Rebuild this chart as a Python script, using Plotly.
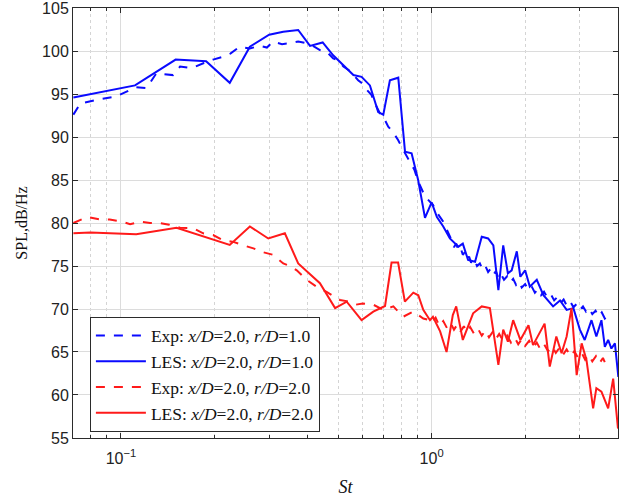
import math
import plotly.graph_objects as go

# ---- data (St, SPL dB/Hz) ----
exp1_st = [0.0703, 0.074, 0.0856, 0.0963, 0.112, 0.121, 0.130, 0.147, 0.155, 0.169, 0.185, 0.198,
           0.212, 0.225, 0.241, 0.26, 0.28, 0.295, 0.309, 0.33, 0.35, 0.372, 0.396, 0.415, 0.437,
           0.46, 0.482, 0.50, 0.52, 0.55, 0.58, 0.60, 0.618, 0.64, 0.657, 0.682, 0.70, 0.725, 0.75,
           0.78, 0.81, 0.852, 0.88, 0.906, 0.93, 0.952, 0.98, 1.01, 1.05, 1.09, 1.12,
           1.16, 1.18, 1.20, 1.22, 1.24, 1.26, 1.28, 1.30, 1.32, 1.34, 1.37, 1.40, 1.43, 1.46,
           1.49, 1.52, 1.55, 1.58, 1.61, 1.64, 1.67, 1.71, 1.75, 1.79, 1.83, 1.87, 1.91, 1.95,
           2.00, 2.05, 2.10, 2.15, 2.20, 2.25, 2.30, 2.36, 2.42, 2.48, 2.54, 2.60, 2.66, 2.72,
           2.79, 2.86, 2.93, 3.00, 3.07, 3.14, 3.21, 3.29, 3.37, 3.45, 3.53, 3.61, 3.70]
exp1_spl = [92.6, 93.9, 94.4, 94.7, 95.8, 95.7, 97.4, 97.2, 98.2, 98.0, 98.6, 99.0,
            99.3, 99.7, 100.5, 100.3, 100.6, 100.4, 101.1, 100.8, 100.9, 101.1, 100.9, 100.6, 100.1,
            99.9, 99.15, 98.9, 98.2, 97.6, 96.6, 96.2, 95.5, 94.9, 93.9, 92.75, 92.3, 91.2, 90.6,
            89.65, 88.5, 87.1, 86.2, 84.8, 84.0, 83.1, 82.6, 82.1, 81.0, 80.15, 79.2,
            78.0, 77.2, 77.6, 76.8, 77.1, 76.3, 76.6, 75.7, 76.1, 75.4, 75.8, 75.0, 75.3, 74.6,
            75.0, 74.3, 74.7, 74.0, 74.4, 73.6, 74.1, 73.4, 73.8, 73.1, 73.5, 72.8, 73.2, 72.5,
            72.9, 72.2, 72.6, 71.9, 72.3, 71.6, 72.0, 71.3, 71.7, 71.0, 71.4, 70.7, 71.1, 70.4,
            70.9, 70.2, 70.6, 69.9, 70.3, 69.7, 70.1, 69.4, 69.8, 69.1, 69.6, 68.9, 69.3]

les1_st = [0.0703, 0.111, 0.150, 0.188, 0.224, 0.26, 0.30, 0.333, 0.372, 0.406, 0.446, 0.482,
           0.56, 0.595, 0.633, 0.673, 0.699, 0.734, 0.781, 0.821, 0.862, 0.905, 0.952, 1.0, 1.04,
           1.09, 1.145, 1.22, 1.26, 1.31, 1.38, 1.45, 1.52, 1.58, 1.64, 1.70, 1.76, 1.81, 1.88,
           1.93, 2.0, 2.07, 2.18, 2.29, 2.46, 2.59, 2.72, 2.86, 3.0, 3.11, 3.27, 3.39, 3.52, 3.61,
           3.70, 3.79, 3.89, 3.95, 3.99]
les1_spl = [94.6, 96.0, 99.0, 98.8, 96.3, 100.5, 101.9, 102.25, 102.45, 100.6, 101.0, 99.5,
            97.2, 97.0, 96.0, 92.9, 92.6, 96.6, 96.9, 88.3, 88.1, 85.0, 80.6, 82.4, 80.7,
            79.6, 78.2, 77.25, 77.6, 75.7, 75.5, 78.4, 78.2, 77.4, 72.2, 77.4, 74.15, 74.5, 76.7,
            73.75, 74.5, 72.6, 73.4, 71.6, 70.3, 71.0, 69.9, 70.1, 67.6, 66.4, 68.7, 66.8, 68.7, 65.6,
            66.4, 65.4, 66.0, 64.0, 62.1]

exp2_st = [0.0703, 0.078, 0.0856, 0.092, 0.101, 0.107, 0.115, 0.124, 0.133, 0.143, 0.155, 0.171,
           0.184, 0.198, 0.213, 0.230, 0.248, 0.267, 0.287, 0.309, 0.333, 0.35, 0.368, 0.396,
           0.426, 0.459, 0.507, 0.545, 0.57, 0.60, 0.649, 0.699, 0.753, 0.81, 0.873, 0.94, 0.988,
           1.00, 1.03, 1.06, 1.09, 1.12, 1.15, 1.18, 1.21, 1.24, 1.27, 1.30, 1.33, 1.37, 1.41,
           1.45, 1.49, 1.53, 1.57, 1.61, 1.65, 1.70, 1.75, 1.80, 1.85, 1.90, 1.95, 2.00, 2.06,
           2.12, 2.18, 2.24, 2.30, 2.37, 2.44, 2.51, 2.58, 2.65, 2.72, 2.80, 2.88, 2.96, 3.04,
           3.12, 3.20, 3.29, 3.38, 3.47, 3.56, 3.63, 3.70]
exp2_spl = [80.0, 80.7, 80.4, 80.4, 80.15, 79.85, 80.15, 80.0, 80.0, 79.8, 79.45, 79.4,
            78.8, 78.6, 78.0, 77.8, 77.4, 77.05, 76.6, 76.3, 75.3, 75.0, 74.5, 73.4,
            72.6, 72.0, 71.05, 70.85, 70.5, 70.65, 70.5, 69.9, 70.3, 69.1, 69.7, 68.9, 68.7,
            68.4, 69.0, 68.0, 68.6, 67.8, 68.4, 67.6, 68.2, 67.4, 68.0, 67.3, 67.9, 67.1, 67.7,
            66.9, 67.5, 66.7, 67.3, 66.5, 67.1, 66.3, 66.9, 66.1, 66.7, 65.9, 66.5, 65.7, 66.3,
            65.5, 66.1, 65.3, 65.9, 65.1, 65.7, 64.9, 65.5, 64.7, 65.3, 64.5, 65.1, 64.3, 64.9,
            64.1, 64.7, 63.9, 64.5, 63.7, 64.3, 63.6, 64.0]

les2_st = [0.0703, 0.0797, 0.112, 0.151, 0.224, 0.26, 0.298, 0.337, 0.372, 0.437, 0.489, 0.533,
           0.595, 0.649, 0.708, 0.743, 0.78, 0.82, 0.873, 0.906, 0.94, 0.988, 1.01, 1.065, 1.117,
           1.17, 1.20, 1.26, 1.36, 1.45, 1.54, 1.64, 1.70, 1.76, 1.83, 1.93, 2.05, 2.12, 2.31,
           2.40, 2.52, 2.62, 2.72, 2.82, 2.93, 3.04, 3.15, 3.31, 3.39, 3.52, 3.70, 3.84, 3.98]
les2_spl = [78.8, 78.9, 78.7, 79.45, 77.45, 79.6, 78.2, 78.8, 75.3, 73.0, 70.1, 70.85,
            68.7, 69.7, 70.35, 75.4, 75.4, 70.85, 71.9, 71.6, 69.9, 68.7, 69.1, 67.4, 65.0,
            69.3, 70.3, 66.4, 69.5, 70.3, 70.1, 63.5, 67.6, 66.2, 68.7, 66.4, 68.1, 65.8, 68.3,
            63.3, 66.8, 64.85, 66.8, 70.1, 62.3, 66.0, 64.1, 58.45, 60.8, 60.4, 58.45, 61.9, 56.1]

names = ["Exp: <i>x/D</i>=2.0, <i>r/D</i>=1.0",
         "LES: <i>x/D</i>=2.0, <i>r/D</i>=1.0",
         "Exp: <i>x/D</i>=2.0, <i>r/D</i>=2.0",
         "LES: <i>x/D</i>=2.0, <i>r/D</i>=2.0"]

x_ticks = [0.1, 1]
x_ticktext = ["10<sup>−1</sup>", "10<sup>0</sup>"]
x_minor = [0.08, 0.09, 0.2, 0.3, 0.4, 0.5, 0.6, 0.7, 0.8, 0.9, 2, 3]
y_ticks = [55, 60, 65, 70, 75, 80, 85, 90, 95, 100, 105]

BLUE = "#0a0aff"
RED = "#ff1a1a"

fig = go.Figure()
series = [(exp1_st, exp1_spl, BLUE, "dash"), (les1_st, les1_spl, BLUE, "solid"),
          (exp2_st, exp2_spl, RED, "dash"), (les2_st, les2_spl, RED, "solid")]
for (xs, ys, c, d), nm in zip(series, names):
    fig.add_trace(go.Scatter(x=xs, y=ys, mode="lines", name=nm,
                             line=dict(color=c, width=2, dash=d)))

axis_col = "#2b2b2b"
fig.update_layout(
    width=637, height=498,
    margin=dict(l=73, r=19, t=8, b=60),
    paper_bgcolor="white", plot_bgcolor="white",
    font=dict(family="Liberation Sans, Arial", size=16, color="#222"),
    showlegend=True,
    legend=dict(x=0.031, y=0.282, xanchor="left", yanchor="top",
                bgcolor="white", bordercolor=axis_col, borderwidth=1,
                font=dict(family="Liberation Serif, Times New Roman", size=17.5, color="#111"),
                tracegroupgap=0, itemwidth=50),
    xaxis=dict(type="log", range=[math.log10(0.0701), math.log10(3.98)],
               tickvals=x_ticks, ticktext=x_ticktext, ticks="inside", ticklen=5,
               tickcolor=axis_col, showline=True, linecolor=axis_col, linewidth=1,
               mirror="ticks", showgrid=True, gridcolor="#dcdcdc", gridwidth=1,
               zeroline=False, ticklabelstandoff=6, automargin=False,
               ticklabeloverflow="allow",
               minor=dict(tickvals=x_minor, showgrid=True, gridcolor="#d4d4d4",
                          griddash="dot", gridwidth=1, ticks="inside", ticklen=3,
                          tickcolor=axis_col),
               title=dict(text="<i>St</i>", standoff=14,
                          font=dict(family="Liberation Serif, Times New Roman", size=18, color="#111"))),
    yaxis=dict(range=[54.999, 105.001], tickvals=y_ticks, ticks="inside", ticklen=5,
               tickcolor=axis_col, showline=True, linecolor=axis_col, linewidth=1,
               mirror="ticks", showgrid=True, gridcolor="#dcdcdc", gridwidth=1,
               zeroline=False, automargin=False, ticklabeloverflow="allow",
               title=dict(text="SPL,dB/Hz", standoff=10,
                          font=dict(family="Liberation Serif, Times New Roman", size=16, color="#111"))),
)

fig.write_html("out.html")
